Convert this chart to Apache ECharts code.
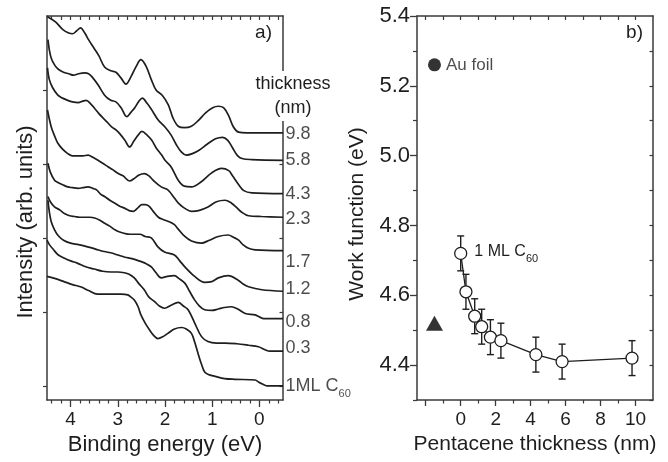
<!DOCTYPE html>
<html><head><meta charset="utf-8">
<script src="https://cdn.jsdelivr.net/npm/echarts@6/dist/echarts.min.js"></script>
<style>html,body{margin:0;padding:0;background:#fff}#c{width:668px;height:462px}</style>
</head><body><div id="c"></div>
<script>
// ---- Panel a: spectra, [binding energy (eV), intensity (arb. units)] ----
const spec98 = [[4.49,4.99],[4.32,4.92],[4.17,4.82],[4.04,4.77],[3.96,4.76],[3.87,4.80],[3.79,4.84],[3.70,4.77],[3.62,4.68],[3.51,4.57],[3.40,4.46],[3.28,4.31],[3.15,4.26],[3.04,4.24],[2.93,4.16],[2.83,4.08],[2.72,4.18],[2.61,4.32],[2.51,4.41],[2.40,4.32],[2.29,4.14],[2.19,4.00],[2.06,3.93],[1.93,3.80],[1.83,3.62],[1.72,3.51],[1.59,3.49],[1.44,3.51],[1.29,3.59],[1.14,3.69],[0.99,3.76],[0.87,3.78],[0.76,3.76],[0.65,3.65],[0.55,3.50],[0.44,3.43],[0.27,3.42],[-0.5,3.42]];
const spec58 = [[4.48,4.68],[4.45,4.54],[4.41,4.43],[4.34,4.34],[4.26,4.28],[4.15,4.24],[4.04,4.22],[3.94,4.20],[3.83,4.22],[3.70,4.23],[3.62,4.22],[3.55,4.18],[3.42,4.07],[3.28,3.93],[3.15,3.86],[3.04,3.84],[2.93,3.76],[2.81,3.64],[2.72,3.70],[2.64,3.76],[2.55,3.85],[2.48,3.89],[2.38,3.82],[2.29,3.74],[2.14,3.59],[2.00,3.50],[1.87,3.39],[1.76,3.26],[1.65,3.16],[1.55,3.12],[1.42,3.14],[1.27,3.19],[1.10,3.27],[0.93,3.34],[0.78,3.36],[0.67,3.32],[0.57,3.22],[0.46,3.11],[0.35,3.07],[0.16,3.06],[-0.5,3.05]];
const spec43 = [[4.49,4.30],[4.45,4.14],[4.38,4.03],[4.27,3.93],[4.17,3.89],[4.06,3.86],[3.96,3.84],[3.84,3.83],[3.74,3.85],[3.67,3.86],[3.57,3.81],[3.49,3.75],[3.40,3.68],[3.31,3.62],[3.23,3.57],[3.13,3.50],[3.04,3.46],[2.96,3.41],[2.85,3.32],[2.75,3.23],[2.66,3.31],[2.57,3.39],[2.49,3.44],[2.38,3.39],[2.28,3.32],[2.19,3.22],[2.07,3.12],[2.00,3.05],[1.87,2.96],[1.72,2.78],[1.59,2.70],[1.44,2.69],[1.23,2.76],[1.01,2.88],[0.80,2.94],[0.65,2.91],[0.57,2.84],[0.45,2.73],[0.33,2.64],[0.16,2.61],[-0.5,2.60]];
const spec23 = [[4.49,3.73],[4.41,3.50],[4.34,3.38],[4.27,3.28],[4.17,3.20],[4.06,3.14],[3.96,3.11],[3.84,3.11],[3.74,3.11],[3.63,3.12],[3.53,3.09],[3.42,3.05],[3.32,3.01],[3.20,2.96],[3.10,2.92],[2.99,2.87],[2.89,2.84],[2.75,2.77],[2.66,2.80],[2.55,2.85],[2.44,2.87],[2.34,2.84],[2.25,2.78],[2.08,2.69],[1.94,2.65],[1.80,2.54],[1.70,2.46],[1.58,2.40],[1.44,2.36],[1.29,2.37],[1.09,2.42],[0.91,2.49],[0.73,2.51],[0.59,2.47],[0.48,2.41],[0.38,2.35],[0.23,2.30],[-0.05,2.29],[-0.5,2.28]];
const spec17 = [[4.48,3.01],[4.43,2.89],[4.34,2.78],[4.27,2.75],[4.17,2.72],[4.06,2.69],[3.96,2.68],[3.84,2.67],[3.74,2.68],[3.63,2.69],[3.53,2.67],[3.45,2.65],[3.36,2.59],[3.28,2.56],[3.17,2.51],[3.06,2.47],[2.96,2.43],[2.85,2.40],[2.76,2.37],[2.67,2.36],[2.57,2.41],[2.49,2.45],[2.42,2.45],[2.34,2.43],[2.25,2.36],[2.14,2.28],[2.04,2.25],[1.91,2.22],[1.80,2.18],[1.72,2.12],[1.58,2.02],[1.44,1.96],[1.23,1.93],[1.06,1.97],[0.87,2.02],[0.66,2.04],[0.55,2.01],[0.44,1.97],[0.35,1.91],[0.23,1.86],[0.09,1.84],[-0.5,1.83]];
const spec12 = [[4.48,2.56],[4.43,2.49],[4.34,2.42],[4.23,2.38],[4.13,2.33],[4.02,2.30],[3.91,2.29],[3.81,2.28],[3.70,2.28],[3.59,2.28],[3.49,2.27],[3.38,2.24],[3.28,2.20],[3.17,2.16],[3.06,2.11],[2.96,2.08],[2.85,2.06],[2.74,2.05],[2.64,2.05],[2.53,2.05],[2.42,2.02],[2.29,2.00],[2.15,1.88],[2.01,1.81],[1.80,1.77],[1.70,1.70],[1.58,1.61],[1.37,1.48],[1.16,1.40],[1.01,1.41],[0.87,1.46],[0.66,1.49],[0.45,1.43],[0.35,1.38],[0.23,1.34],[-0.05,1.30],[-0.5,1.28]];
const spec08 = [[4.48,2.51],[4.45,2.35],[4.41,2.22],[4.34,2.11],[4.26,2.03],[4.15,1.97],[4.00,1.93],[3.83,1.91],[3.64,1.88],[3.47,1.85],[3.32,1.82],[3.15,1.80],[3.00,1.77],[2.85,1.74],[2.70,1.72],[2.55,1.69],[2.42,1.66],[2.29,1.61],[2.19,1.53],[2.08,1.46],[1.95,1.48],[1.80,1.49],[1.70,1.45],[1.58,1.39],[1.48,1.28],[1.37,1.16],[1.27,1.08],[1.16,1.03],[1.01,1.02],[0.87,1.04],[0.74,1.06],[0.59,1.07],[0.46,1.04],[0.30,0.98],[0.09,0.96],[-0.01,0.93],[-0.09,0.91],[-0.5,0.91]];
const spec03 = [[4.50,1.97],[4.45,1.91],[4.36,1.84],[4.26,1.77],[4.14,1.73],[4.00,1.69],[3.86,1.66],[3.68,1.61],[3.50,1.58],[3.32,1.55],[3.15,1.54],[3.00,1.54],[2.86,1.53],[2.76,1.51],[2.65,1.46],[2.55,1.38],[2.44,1.30],[2.34,1.20],[2.22,1.14],[2.12,1.08],[2.01,1.05],[1.87,1.09],[1.72,1.13],[1.61,1.08],[1.51,1.03],[1.37,0.85],[1.23,0.67],[1.09,0.60],[0.91,0.58],[0.73,0.58],[0.48,0.57],[0.23,0.55],[0.02,0.53],[-0.12,0.49],[-0.22,0.47],[-0.5,0.47]];
const specC60 = [[4.50,1.48],[4.32,1.45],[4.14,1.41],[3.96,1.37],[3.79,1.34],[3.62,1.29],[3.43,1.24],[3.25,1.24],[3.08,1.24],[2.93,1.24],[2.79,1.23],[2.72,1.20],[2.65,1.16],[2.57,1.07],[2.51,0.96],[2.42,0.85],[2.33,0.76],[2.25,0.69],[2.15,0.64],[2.06,0.66],[1.94,0.71],[1.80,0.77],[1.65,0.79],[1.55,0.77],[1.44,0.71],[1.37,0.59],[1.30,0.44],[1.23,0.30],[1.16,0.19],[1.06,0.15],[0.94,0.13],[0.74,0.10],[0.52,0.09],[0.09,0.08],[0.01,0.05],[-0.05,0.03],[-0.16,0.00],[-0.5,0.00]];
const spectra = [spec98, spec58, spec43, spec23, spec17, spec12, spec08, spec03, specC60];
const thicknessLabels = ['9.8','5.8','4.3','2.3','1.7','1.2','0.8','0.3','1ML C{sub|60}'];

// axis ticks, panel a
const energyLabels = [0,1,2,3,4];
const energyMinor = [4.4,4.2,3.8,3.6,3.4,3.2,2.8,2.6,2.4,2.2,1.8,1.6,1.4,1.2,0.8,0.6,0.4,0.2,-0.2,-0.4];
const energyAll = [4.4,4.2,4,3.8,3.6,3.4,3.2,3,2.8,2.6,2.4,2.2,2,1.8,1.6,1.4,1.2,1,0.8,0.6,0.4,0.2,0,-0.2,-0.4];
const intensityTicks = [0,1,2,3,4];

// ---- Panel b: work function ----
const wfThickness = [0, 0.3, 0.8, 1.2, 1.7, 2.3, 4.3, 5.8, 9.8];
const wfValue     = [4.72, 4.61, 4.54, 4.51, 4.48, 4.47, 4.43, 4.41, 4.42];
const wfError     = [0.05, 0.05, 0.05, 0.05, 0.05, 0.05, 0.05, 0.05, 0.05];
const auFoil = [-1.5, 5.26];
const pentaceneOnAu = [-1.5, 4.52];
const thickLabels = [0,2,4,6,8,10];
const thickMajor = [-2,0,2,4,6,8,10];
const thickMinor = [-1,1,3,5,7,9];
const thickAll = [-2,-1,0,1,2,3,4,5,6,7,8,9,10];
const wfLabels = [4.4,4.6,4.8,5.0,5.2,5.4];
const wfMinor = [4.3,4.5,4.7,4.9,5.1,5.3];
const wfAll = [4.3,4.4,4.5,4.6,4.7,4.8,4.9,5.0,5.1,5.2,5.3];

// styles
const labelOffsets = [1,0,0,2,11,-2,3,-3,0];
const FONT = "'Liberation Sans', Arial, Helvetica, sans-serif";
const INK = '#1e1e1e';
const AXL = {show:true, onZero:false, lineStyle:{color:'#3a3a3a', width:1.5}};

const chart = echarts.init(document.getElementById('c'), null, {renderer:'canvas'});

const rectA = {left:47, top:16, width:236, height:384};
const rectB = {left:417, top:16, width:236, height:384};

function baseX(grid, min, max, inv, pos) {
  return {type:'value', gridIndex:grid, min:min, max:max, inverse:inv, position:pos,
    splitLine:{show:false}, axisLine:AXL, axisLabel:{show:false}, axisTick:{show:false}};
}
function baseY(grid, min, max, pos) {
  return {type:'value', gridIndex:grid, min:min, max:max, position:pos,
    splitLine:{show:false}, axisLine:AXL, axisLabel:{show:false}, axisTick:{show:false}};
}
const NOLINE = {show:false, onZero:false};

const series = [];
spectra.forEach((d, i) => {
  series.push({type:'line', xAxisIndex:0, yAxisIndex:0, data:d, smooth:0.35, symbol:'none',
    lineStyle:{color:INK, width:1.7}, z:3});
});
series.push({type:'scatter', xAxisIndex:0, yAxisIndex:0, clip:false, symbolSize:1,
  itemStyle:{color:'rgba(0,0,0,0)'}, z:5,
  data: spectra.map((d, i) => ({value:d[d.length-1],
    label:{show:true, position:'right', distance:2, offset:[0, labelOffsets[i]],
      formatter:thicknessLabels[i], fontSize:18, fontFamily:FONT, color:INK,
      rich:{sub:{fontSize:11, fontFamily:FONT, color:INK, padding:[16,0,0,0]}}}}))
});
// error bars
series.push({type:'custom', xAxisIndex:2, yAxisIndex:2, z:3,
  data: wfThickness.map((t, i) => [t, wfValue[i] - wfError[i], wfValue[i] + wfError[i]]),
  renderItem: (params, api) => {
    const x = api.value(0);
    const pHi = api.coord([x, api.value(2)]);
    const pLo = api.coord([x, api.value(1)]);
    const w = 3.5, st = {stroke:INK, lineWidth:1.4};
    return {type:'group', children:[
      {type:'line', shape:{x1:pHi[0], y1:pHi[1], x2:pLo[0], y2:pLo[1]}, style:st},
      {type:'line', shape:{x1:pHi[0]-w, y1:pHi[1], x2:pHi[0]+w, y2:pHi[1]}, style:st},
      {type:'line', shape:{x1:pLo[0]-w, y1:pLo[1], x2:pLo[0]+w, y2:pLo[1]}, style:st}
    ]};
  }
});
series.push({type:'line', xAxisIndex:2, yAxisIndex:2, z:4,
  data: wfThickness.map((t, i) => i === 0 ? {value:[t, wfValue[i]],
      label:{show:true, position:'right', distance:7, offset:[0,-2], formatter:'1 ML C{sub|60}',
        fontSize:16, fontFamily:FONT, color:INK,
        rich:{sub:{fontSize:11, fontFamily:FONT, color:INK, padding:[16,0,0,0]}}}}
    : [t, wfValue[i]]),
  symbol:'circle', symbolSize:12, showSymbol:true,
  itemStyle:{color:'#fff', borderColor:INK, borderWidth:1.3},
  lineStyle:{color:INK, width:1.3}
});
series.push({type:'scatter', xAxisIndex:2, yAxisIndex:2, z:4, data:[auFoil], symbol:'circle', symbolSize:13,
  itemStyle:{color:'#000'},
  label:{show:true, position:'right', distance:5, formatter:'Au foil', fontSize:17, fontFamily:FONT, color:INK}});
series.push({type:'scatter', xAxisIndex:2, yAxisIndex:2, z:4, data:[pentaceneOnAu], symbol:'triangle', symbolSize:[17,15],
  itemStyle:{color:'#000'}});

const option = {
  animation:false,
  backgroundColor:'#fff',
  textStyle:{fontFamily:FONT},
  grid:[ {...rectA}, {...rectB}, {...rectA}, {...rectB} ],
  xAxis:[
    // 0: panel a bottom
    {...baseX(0, -0.5, 4.5, true, 'bottom'),
      axisTick:{show:true, inside:false, length:7, customValues:energyLabels, lineStyle:{color:'#3a3a3a', width:1.3}},
      axisLabel:{show:true, customValues:energyLabels, fontSize:19, margin:10, color:INK, fontFamily:FONT},
      name:'Binding energy (eV)', nameLocation:'middle', nameGap:34,
      nameTextStyle:{fontSize:22, color:INK, fontFamily:FONT}},
    // 1: panel a top
    {...baseX(0, -0.5, 4.5, true, 'top'),
      axisTick:{show:true, inside:true, length:4, customValues:energyAll, lineStyle:{color:'#3a3a3a', width:1.2}}},
    // 2: panel b bottom
    {...baseX(1, -2.5, 11, false, 'bottom'),
      axisTick:{show:true, inside:false, length:6, customValues:thickMajor, lineStyle:{color:'#3a3a3a', width:1.3}},
      axisLabel:{show:true, customValues:thickLabels, fontSize:19, margin:10, color:INK, fontFamily:FONT},
      name:'Pentacene thickness (nm)', nameLocation:'middle', nameGap:34,
      nameTextStyle:{fontSize:21, color:INK, fontFamily:FONT}},
    // 3: panel b top
    {...baseX(1, -2.5, 11, false, 'top'),
      axisTick:{show:true, inside:true, length:4, customValues:thickAll, lineStyle:{color:'#3a3a3a', width:1.2}}},
    // 4: panel a minor bottom ticks
    {...baseX(2, -0.5, 4.5, true, 'bottom'), axisLine:NOLINE,
      axisTick:{show:true, inside:false, length:3.5, customValues:energyMinor, lineStyle:{color:'#3a3a3a', width:1.2}}},
    // 5: panel b minor bottom ticks
    {...baseX(3, -2.5, 11, false, 'bottom'), axisLine:NOLINE,
      axisTick:{show:true, inside:false, length:3.5, customValues:thickMinor, lineStyle:{color:'#3a3a3a', width:1.2}}}
  ],
  yAxis:[
    // 0: panel a left
    {...baseY(0, -0.19, 5, 'left'),
      axisTick:{show:true, inside:false, length:4, customValues:intensityTicks, lineStyle:{color:'#3a3a3a', width:1.2}},
      name:'Intensity (arb. units)', nameLocation:'middle', nameGap:10,
      nameTextStyle:{fontSize:22, color:INK, fontFamily:FONT, padding:[0,28,0,0]}},
    // 1: panel a right
    {...baseY(0, -0.19, 5, 'right'),
      axisTick:{show:true, inside:true, length:3.5, customValues:intensityTicks, lineStyle:{color:'#3a3a3a', width:1.2}}},
    // 2: panel b left
    {...baseY(1, 4.3, 5.4, 'left'),
      axisLabel:{show:true, customValues:wfLabels, fontSize:22, margin:7, color:INK, fontFamily:FONT,
        formatter:v => Number(v).toFixed(1)},
      axisTick:{show:true, inside:false, length:7, customValues:wfLabels, lineStyle:{color:'#3a3a3a', width:1.3}},
      name:'Work function (eV)', nameLocation:'middle', nameGap:49,
      nameTextStyle:{fontSize:21, color:INK, fontFamily:FONT, padding:[0,12,0,0]}},
    // 3: panel b right
    {...baseY(1, 4.3, 5.4, 'right'),
      axisTick:{show:true, inside:true, length:3.5, customValues:wfAll, lineStyle:{color:'#3a3a3a', width:1.2}}},
    // 4: panel a overlay (hidden)
    {type:'value', gridIndex:2, min:-0.19, max:5, show:false},
    // 5: panel b minor left ticks
    {...baseY(3, 4.3, 5.4, 'left'), axisLine:NOLINE,
      axisTick:{show:true, inside:false, length:4, customValues:wfMinor, lineStyle:{color:'#3a3a3a', width:1.2}}}
  ],
  graphic:[
    {type:'text', z:100, x:272, y:33, style:{text:'a)', font:'19px ' + FONT, fill:INK, align:'right', verticalAlign:'middle'}},
    {type:'text', z:100, x:643, y:33, style:{text:'b)', font:'19px ' + FONT, fill:INK, align:'right', verticalAlign:'middle'}},
    {type:'text', z:100, x:293, y:96, style:{text:'thickness\n(nm)', font:'18px ' + FONT, fill:INK,
      align:'center', verticalAlign:'middle', lineHeight:24, backgroundColor:'#fff', padding:[1,2,1,2]}}
  ],
  series: series
};
chart.setOption(option);
</script></body></html>
